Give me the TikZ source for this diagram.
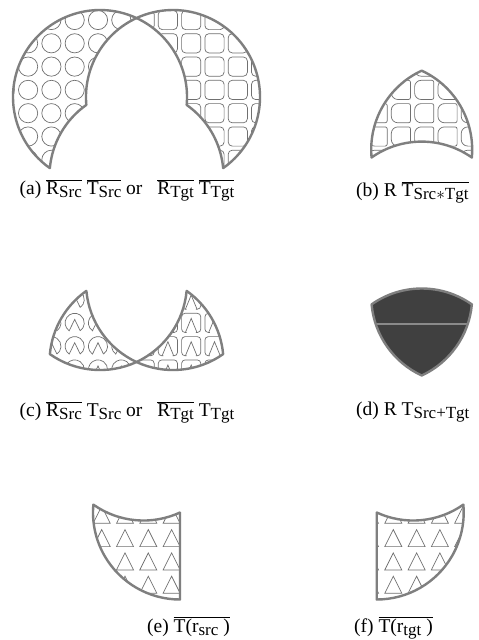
\documentclass[tikz,border=0pt]{standalone}
\usepackage{fontspec}
\setmainfont{Liberation Serif}
\definecolor{bordergray}{HTML}{7F7F7F}
\definecolor{patgray}{HTML}{707070}
\definecolor{shieldfill}{HTML}{404040}
\definecolor{dlinegray}{HTML}{8A8A8A}
\newcommand\sbs[1]{\raisebox{-3.4pt}{\fontsize{17}{17}\selectfont #1}}
\newcommand\ovl[1]{$\overline{\mbox{#1}}$}
% region boundaries, relative to the lower intersection point Q
\def\pathAL{(0,-157.94) arc[start angle=-65.19,end angle=-234.8,radius=87] arc[start angle=185.2,end angle=234.8,radius=87] arc[start angle=174.8,end angle=245.19,radius=87] -- cycle}
\def\pathAR{(0,-157.94) arc[start angle=-114.81,end angle=54.8,radius=87] arc[start angle=-5.2,end angle=-54.8,radius=87] arc[start angle=5.2,end angle=-65.19,radius=87] -- cycle}
\def\pathB{(-50.14,-71.09) arc[start angle=174.8,end angle=245.19,radius=87] arc[start angle=-65.19,end angle=5.2,radius=87] arc[start angle=-54.8,end angle=-125.2,radius=87] -- cycle}
\def\pathCL{(-50.14,-71.09) arc[start angle=234.8,end angle=185.2,radius=87] arc[start angle=125.2,end angle=65.19,radius=87] arc[start angle=114.81,end angle=174.8,radius=87] -- cycle}
\def\pathCR{(50.14,-71.09) arc[start angle=-54.8,end angle=-5.2,radius=87] arc[start angle=54.8,end angle=114.81,radius=87] arc[start angle=65.19,end angle=5.2,radius=87] -- cycle}
\def\pathD{(-50.14,-71.09) arc[start angle=-125.2,end angle=-54.8,radius=87] arc[start angle=5.2,end angle=65.19,radius=87] arc[start angle=114.81,end angle=174.8,radius=87] -- cycle}
\def\pathE{(0,0) -- (0,87) arc[start angle=90,end angle=185.2,radius=87] arc[start angle=125.2,end angle=65.19,radius=87] -- cycle}
\def\pathF{(0,0) -- (0,87) arc[start angle=90,end angle=-5.2,radius=87] arc[start angle=54.8,end angle=114.81,radius=87] -- cycle}
% motifs
\newcommand\mcirc[2]{\draw[pat] (#1,#2) circle[radius=9.6];}
\newcommand\msq[2]{\draw[pat,rounded corners=4pt] (#1-9.6,#2-9.6) rectangle (#1+9.6,#2+9.6);}
\newcommand\mbsq[2]{\draw[pat,shift={(#1,#2)}] (7.6,-9.6) -- (-3,-9.6) arc[start angle=270,end angle=180,radius=6.6] -- (-9.6,3) arc[start angle=180,end angle=90,radius=6.6] -- (7.6,9.6) arc[start angle=90,end angle=0,radius=2] -- (9.6,-7.6) arc[start angle=0,end angle=-90,radius=2] -- cycle;}
\newcommand\mcnotch[2]{\draw[pat,shift={(#1,#2)}] (55:9.6) -- (0,-3.5) -- (125:9.6) arc[start angle=125,end angle=415,radius=9.6];}
\newcommand\msnotch[2]{\draw[pat,shift={(#1,#2)},rounded corners=3.5pt] (4.6,9.6) -- (9.6,9.6) -- (9.6,-9.6) -- (-9.6,-9.6) -- (-9.6,9.6) -- (-4.6,9.6);
  \draw[pat,shift={(#1,#2)}] (-5.8,9.6) -- (0,-4.5) -- (5.8,9.6);}
\newcommand\mtri[2]{\draw[pat,shift={(#1,#2)}] (-8.5,0) -- (0,-17) -- (8.5,0) -- cycle;}
\begin{document}
\begin{tikzpicture}[x=1pt,y=-1pt,
  edge/.style={draw=bordergray,line width=2.4pt,line join=round},
  pat/.style={draw=patgray,line width=0.7pt},
  captext/.style={anchor=base west,inner sep=0pt,font=\fontsize{19.5}{21}\selectfont}]
\useasboundingbox[fill=white] (0,0) rectangle (479,640);

% ---------------- (a)
\begin{scope}[shift={(136.5,176)}]
  \begin{scope}
    \clip \pathAL;
    \begin{scope}[shift={(-136.5,-176)}]
      \foreach \i in {0,...,7} \foreach \j in {0,...,7} {\mcirc{4.8+23.3*\i}{20+23.3*\j}}
    \end{scope}
  \end{scope}
  \begin{scope}
    \clip \pathAR;
    \begin{scope}[shift={(-136.5,-176)}]
      \foreach \i in {5,...,11} \foreach \j in {0,...,7} {\msq{4.8+23.3*\i}{20+23.3*\j}}
    \end{scope}
  \end{scope}
  \draw[edge] \pathAL;
  \draw[edge] \pathAR;
\end{scope}
\node[captext] (capa) at (19.5,194.5) {(a) \ovl{R\sbs{Src}} \ovl{T\sbs{Src}} or\hspace{10pt} \ovl{R\sbs{Tgt}} \ovl{T\sbs{Tgt}}};

% ---------------- (b)
\begin{scope}[shift={(421.7,228.6)}]
  \begin{scope}
    \clip \pathB;
    \begin{scope}[shift={(-421.7,-228.6)}]
      \foreach \i in {15,...,20} \foreach \j in {2,...,6} {\mbsq{4.8+23.3*\i}{20+23.3*\j}}
    \end{scope}
  \end{scope}
  \draw[edge] \pathB;
\end{scope}
\node[captext] (capb) at (356,196) {(b) R \ovl{T\sbs{Src$\ast$Tgt}}};

% ---------------- (c)
\begin{scope}[shift={(136.5,362)}]
  \begin{scope}
    \clip \pathCL;
    \begin{scope}[shift={(-136.5,-362)}]
      \foreach \i in {1,...,6} \foreach \j in {11,...,15} {\mcnotch{4.8+23.3*\i}{20+23.3*\j}}
    \end{scope}
  \end{scope}
  \begin{scope}
    \clip \pathCR;
    \begin{scope}[shift={(-136.5,-362)}]
      \foreach \i in {5,...,10} \foreach \j in {11,...,15} {\msnotch{4.8+23.3*\i}{20+23.3*\j}}
    \end{scope}
  \end{scope}
  \draw[edge] \pathCL;
  \draw[edge] \pathCR;
\end{scope}
\node[captext] (capc) at (19.5,416.5) {(c) \ovl{R\sbs{Src}} T\sbs{Src} or\hspace{10pt} \ovl{R\sbs{Tgt}} T\sbs{Tgt}};

% ---------------- (d)
\begin{scope}[shift={(421.7,375.5)}]
  \fill[shieldfill] \pathD;
  \begin{scope}
    \clip \pathD;
    \draw[draw=dlinegray,line width=2pt] (-70,-51.5) -- (70,-51.5);
  \end{scope}
  \draw[edge] \pathD;
\end{scope}
\node[captext] (capd) at (356,415) {(d) R T\sbs{Src+Tgt}};

% ---------------- (e)
\begin{scope}[shift={(180,512.5)}]
  \begin{scope}
    \clip \pathE;
    \begin{scope}[shift={(-180,-512.5)}]
      \foreach \i in {-4,...,3} \foreach \j in {-1,...,4} {\mtri{125+23.3*\i}{523.3+23.3*\j}}
    \end{scope}
  \end{scope}
  \draw[edge] \pathE;
\end{scope}
\node[captext] (cape) at (147,632) {(e) \ovl{T(r\sbs{src} )}};

% ---------------- (f)
\begin{scope}[shift={(376.7,512.5)}]
  \begin{scope}
    \clip \pathF;
    \begin{scope}[shift={(-376.7,-512.5)}]
      \foreach \i in {-1,...,4} \foreach \j in {-1,...,4} {\mtri{393.3+23.3*\i}{523.3+23.3*\j}}
    \end{scope}
  \end{scope}
  \draw[edge] \pathF;
\end{scope}
\node[captext] (capf) at (354,632) {(f) \ovl{T(r\sbs{tgt} )}};
\end{tikzpicture}
\end{document}
